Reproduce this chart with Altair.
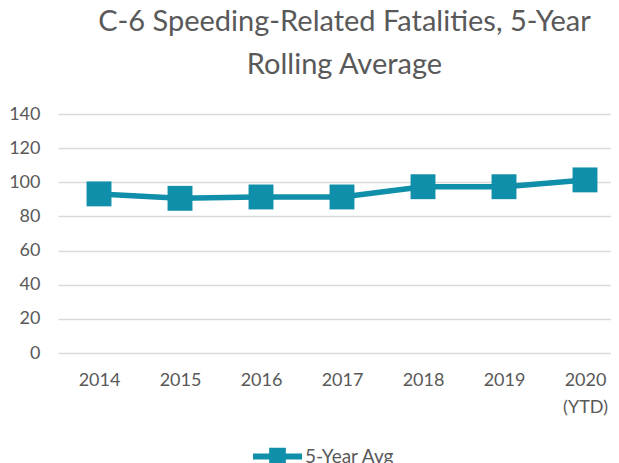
import altair as alt
import pandas as pd

years = ["2014", "2015", "2016", "2017", "2018", "2019", "2020"]
avg_values = [93.2, 90.6, 91.4, 91.4, 97.4, 97.4, 101.4]
series_name = "5-Year Avg"
title_lines = ["C-6 Speeding-Related Fatalities, 5-Year", "Rolling Average"]
y_ticks = [0, 20, 40, 60, 80, 100, 120, 140]

df = pd.DataFrame({"year": years, "value": avg_values, "series": [series_name] * len(years)})

TEAL = "#0F8FA9"
GRAY = "#595959"
FONT = "Lato"

x_enc = alt.X(
    "year:O",
    scale=alt.Scale(type="point", padding=0.4136, align=0.612),
    axis=alt.Axis(
        title=None, domain=False, ticks=False, labelAngle=0, labelFontSize=18,
        labelColor=GRAY, labelFont=FONT, labelPadding=18, labelLineHeight=27,
        labelExpr="datum.value == '2020' ? ['2020', '(YTD)'] : datum.value",
    ),
)
y_enc = alt.Y(
    "value:Q",
    scale=alt.Scale(domain=[0, 140], nice=False, zero=True),
    axis=alt.Axis(
        title=None, values=y_ticks, domain=False, ticks=False, labelFontSize=18,
        labelColor=GRAY, labelFont=FONT, labelPadding=18, gridColor="#D9D9D9",
        gridWidth=1.5,
    ),
)

line = alt.Chart(df).mark_line(color=TEAL, strokeWidth=5.5).encode(x=x_enc, y=y_enc)
points = alt.Chart(df).mark_point(shape="square", filled=True, size=620, opacity=1).encode(
    x=x_enc,
    y=y_enc,
    color=alt.Color(
        "series:N",
        scale=alt.Scale(range=[TEAL]),
        legend=alt.Legend(
            title=None, orient="none", legendX=195, legendY=318, padding=0,
            symbolType="M-1,-0.12H1V0.12H-1Z M-0.34,-0.36H0.34V0.36H-0.34Z",
            symbolSize=2401, symbolStrokeWidth=0, labelFontSize=19, labelColor=GRAY,
            labelFont=FONT, labelOffset=3,
        ),
    ),
)

chart = (
    alt.layer(line, points)
    .properties(
        width=553,
        height=239,
        autosize=alt.AutoSizeParams(type="none"),
        padding={"left": 50, "top": 106, "right": 0, "bottom": 110},
        title=alt.TitleParams(
            text=title_lines, fontSize=29, font=FONT, color=GRAY, fontWeight="normal",
            anchor="middle", frame="group", dx=10, offset=25, lineHeight=43,
        ),
    )
    .configure_view(stroke=None)
)

chart.save("out.html", embed_options={"renderer": "svg", "actions": False})
